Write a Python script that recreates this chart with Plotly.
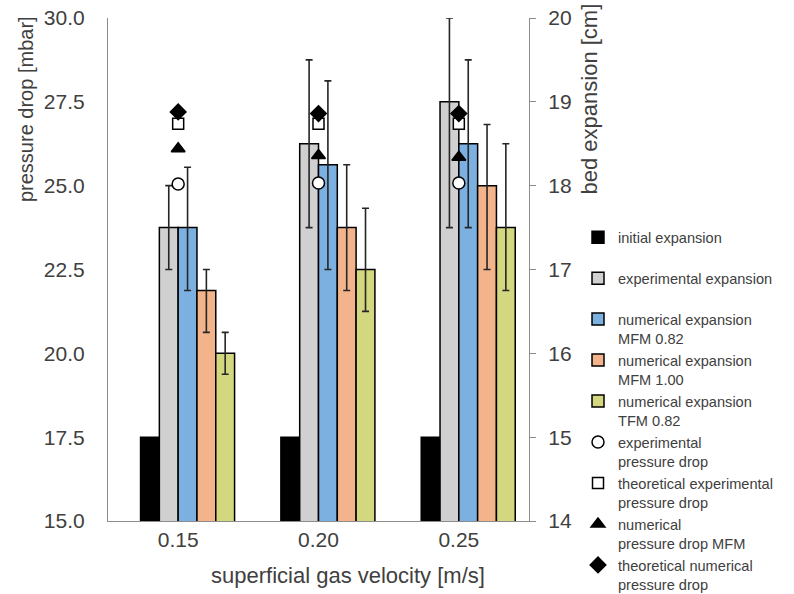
import plotly.graph_objects as go

# ---- data ----
categories = ["0.15", "0.20", "0.25"]

initial_expansion = [15.0, 15.0, 15.0]

experimental_expansion = [17.5, 18.5, 19.0]
experimental_expansion_plus = [0.5, 1.0, 1.0]
experimental_expansion_minus = [0.5, 1.0, 1.5]

mfm082_expansion = [17.5, 18.25, 18.5]
mfm082_plus = [0.72, 1.0, 1.0]
mfm082_minus = [0.75, 1.25, 1.0]

mfm100_expansion = [16.75, 17.5, 18.0]
mfm100_plus = [0.25, 0.75, 0.73]
mfm100_minus = [0.5, 0.75, 1.0]

tfm082_expansion = [16.0, 17.0, 17.5]
tfm082_plus = [0.25, 0.73, 1.0]
tfm082_minus = [0.25, 0.5, 0.75]

experimental_dp = [25.05, 25.08, 25.08]
theoretical_experimental_dp = [26.85, 26.85, 26.85]
numerical_dp_mfm = [26.1, 25.9, 25.85]
theoretical_numerical_dp = [27.2, 27.15, 27.15]

left_ticks = [15.0, 17.5, 20.0, 22.5, 25.0, 27.5, 30.0]
right_ticks = [14, 15, 16, 17, 18, 19, 20]

# ---- style ----
FONT = "Liberation Sans, Arial, sans-serif"
TXT = "#404040"
AX = "#8c8c8c"
SLOT = 0.134
ERR = dict(type="data", symmetric=False, color="#262626", thickness=1.6, width=3.5)

fig = go.Figure()

bars = [
    ("initial expansion<br>\u00a0", initial_expansion, None, None, "#000000", 1),
    ("experimental expansion<br>\u00a0", experimental_expansion,
     experimental_expansion_plus, experimental_expansion_minus, "#d0d0d0", 2),
    ("numerical expansion<br>MFM 0.82", mfm082_expansion, mfm082_plus, mfm082_minus, "#7bb0e0", 3),
    ("numerical expansion<br>MFM 1.00", mfm100_expansion, mfm100_plus, mfm100_minus, "#f3b48b", 4),
    ("numerical expansion<br>TFM 0.82", tfm082_expansion, tfm082_plus, tfm082_minus, "#d3d77f", 5),
]
for name, vals, plus, minus, color, slot in bars:
    kw = {}
    if plus is not None:
        kw["error_y"] = dict(array=plus, arrayminus=minus, **ERR)
    fig.add_trace(go.Bar(
        x=categories, y=vals, name=name,
        width=SLOT, offset=-3 * SLOT + slot * SLOT,
        marker=dict(color=color, line=dict(color="#000000", width=1.5)),
        yaxis="y", **kw))

markers = [
    ("experimental<br>pressure drop", experimental_dp, "circle", "white", 12),
    ("theoretical experimental<br>pressure drop", theoretical_experimental_dp, "square", "white", 11),
    ("numerical<br>pressure drop MFM", numerical_dp_mfm, "triangle-up", "black", 12),
    ("theoretical numerical<br>pressure drop", theoretical_numerical_dp, "diamond", "black", 12),
]
for name, vals, sym, fill, size in markers:
    fig.add_trace(go.Scatter(
        x=categories, y=vals, name=name, mode="markers", yaxis="y2",
        marker=dict(symbol=sym, size=size, color=fill, line=dict(color="black", width=1.5))))

fig.update_layout(
    width=794, height=594,
    margin=dict(l=108, r=265, t=18, b=73, autoexpand=False),
    paper_bgcolor="white", plot_bgcolor="white",
    font=dict(family=FONT, color=TXT, size=20),
    barmode="overlay",
    showlegend=True,
    legend=dict(
        x=1.1164, xanchor="left", y=0.596, yanchor="top",
        valign="top", font=dict(size=14.6, color=TXT, family=FONT),
        bgcolor="rgba(0,0,0,0)", tracegroupgap=0, itemwidth=30,
    ),
    xaxis=dict(
        type="category", range=[-0.5, 2.5], showgrid=False, zeroline=False,
        showline=True, linecolor=AX, linewidth=1.2, ticks="",
        tickfont=dict(size=21, color=TXT),
    ),
    yaxis=dict(
        range=[14, 20], tickvals=right_ticks, side="right", anchor="x",
        showgrid=False, zeroline=False, showline=True, linecolor=AX, linewidth=1.2,
        ticks="outside", ticklen=6, tickcolor=AX, tickwidth=1.2,
        tickfont=dict(size=21, color=TXT), ticklabelstandoff=8,
    ),
    yaxis2=dict(
        range=[15, 30], tickvals=left_ticks, tickformat=".1f", side="left",
        overlaying="y", anchor="x",
        showgrid=False, zeroline=False, showline=True, linecolor=AX, linewidth=1.2,
        ticks="", tickfont=dict(size=21, color=TXT), ticklabelstandoff=18,
    ),
    annotations=[
        dict(text="superficial gas velocity [m/s]", xref="paper", yref="paper",
             x=0.570, y=-0.1093, xanchor="center", yanchor="middle",
             showarrow=False, font=dict(size=22, color=TXT)),
        dict(text="pressure drop [mbar]", xref="paper", yref="paper",
             x=-0.1948, y=0.819, xanchor="center", yanchor="middle", textangle=-90,
             showarrow=False, font=dict(size=20, color=TXT)),
        dict(text="bed expansion [cm]", xref="paper", yref="paper",
             x=1.1425, y=0.84, xanchor="center", yanchor="middle", textangle=-90,
             showarrow=False, font=dict(size=22, color=TXT)),
    ],
)

fig.write_html("out.html")
